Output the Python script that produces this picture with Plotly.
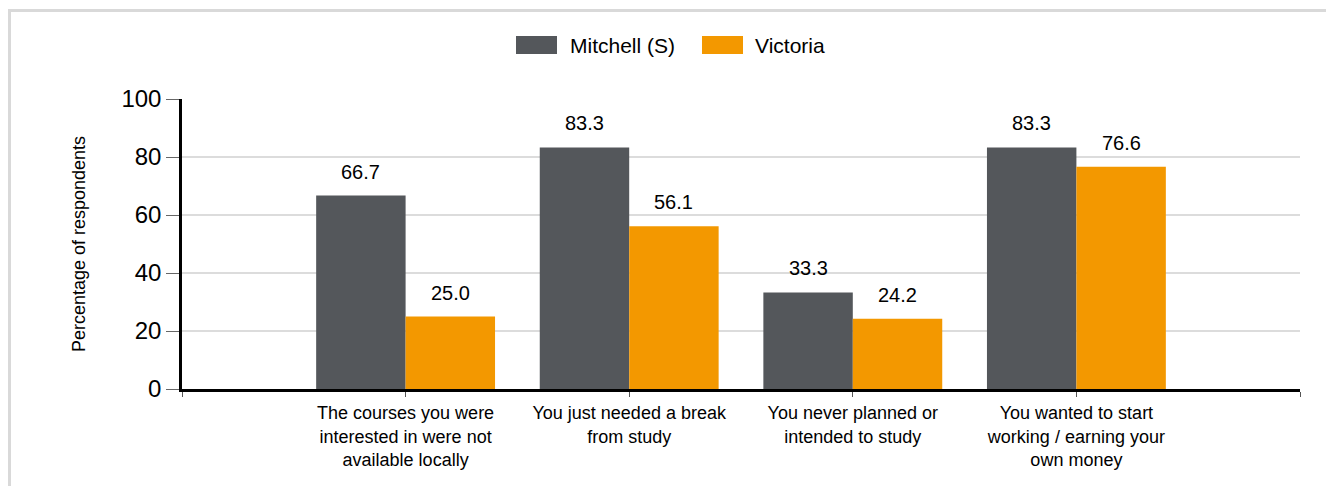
import plotly.graph_objects as go

categories = [
    "The courses you were<br>interested in were not<br>available locally",
    "You just needed a break<br>from study",
    "You never planned or<br>intended to study",
    "You wanted to start<br>working / earning your<br>own money",
]
series_names = ["Mitchell (S)", "Victoria"]
mitchell = [66.7, 83.3, 33.3, 83.3]
victoria = [25.0, 56.1, 24.2, 76.6]
colors = ["#54575b", "#f39800"]
y_ticks = [0, 20, 40, 60, 80, 100]

W, H = 1334, 486
OFF = 8  # page body margin
# target plot area in page pixels
PX0, PX1, PY0, PY1 = 182, 1300, 99, 389
L = PX0 - OFF
T = PY0 - OFF
R = (W + OFF) - PX1
B = (H + OFF) - PY1
pw, ph = PX1 - PX0, PY1 - PY0

def px(x):
    return (x - PX0) / pw

def py(y):
    return (PY1 - y) / ph

xs = list(range(len(categories)))
bar_w = 0.4
offsets = [-bar_w, 0.0]

fig = go.Figure()
for name, vals, col, off in zip(series_names, [mitchell, victoria], colors, offsets):
    fig.add_trace(go.Bar(
        x=xs, y=vals, name=name, width=bar_w, offset=off,
        marker=dict(color=col, line=dict(width=0)),
        showlegend=False,
    ))
    for x, v in zip(xs, vals):
        fig.add_annotation(
            x=x + off + bar_w / 2, y=v, text=f"{v:.1f}", showarrow=False,
            yanchor="bottom", yshift=11,
            font=dict(family="Liberation Sans, Arial", size=20, color="#000000"),
        )

# manual legend
legend_items = [(516, 557, 568), (702, 743, 753)]
for (x0, x1, tx), name, col in zip(legend_items, series_names, colors):
    fig.add_shape(type="rect", xref="paper", yref="paper",
                  x0=px(x0), x1=px(x1), y0=py(54), y1=py(36),
                  fillcolor=col, line=dict(width=0))
    fig.add_annotation(xref="paper", yref="paper", x=px(tx), y=py(45),
                       text=name, showarrow=False, xanchor="left", yanchor="middle",
                       font=dict(family="Liberation Sans, Arial", size=21, color="#000000"))

# outer frame
fig.add_shape(type="line", xref="paper", yref="paper",
              x0=px(8.5), x1=px(W + 20), y0=py(10.5), y1=py(10.5),
              line=dict(color="#d9d9d9", width=3))
fig.add_shape(type="line", xref="paper", yref="paper",
              x0=px(9.5), x1=px(9.5), y0=py(9), y1=py(H + 20),
              line=dict(color="#d9d9d9", width=3))

fig.update_layout(
    width=W, height=H,
    margin=dict(l=L, r=R, t=T, b=B),
    paper_bgcolor="white", plot_bgcolor="white",
    font=dict(family="Liberation Sans, Arial", color="#000000"),
    barmode="overlay",
)
fig.update_xaxes(
    range=[-1, len(categories)],
    tickmode="array",
    tickvals=[-1] + xs + [len(categories)],
    ticktext=[""] + categories + [""],
    ticks="outside", ticklen=5, tickcolor="#555555", tickwidth=1,
    showline=True, linecolor="#000000", linewidth=2.5,
    showgrid=False, zeroline=False,
    tickfont=dict(family="Liberation Sans, Arial", size=18, color="#000000"),
    ticklabelstandoff=1,
)
fig.update_yaxes(
    range=[0, 100],
    tickmode="array", tickvals=y_ticks,
    ticks="outside", ticklen=13, tickcolor="#666666", tickwidth=1,
    showline=True, linecolor="#000000", linewidth=2.5,
    showgrid=True, gridcolor="#dcdcdc", gridwidth=2,
    zeroline=False,
    tickfont=dict(family="Liberation Sans, Arial", size=24, color="#000000"),
    title=dict(text="Percentage of respondents",
               font=dict(family="Liberation Sans, Arial", size=18, color="#000000"),
               standoff=32),
)

fig.write_html("out.html")
